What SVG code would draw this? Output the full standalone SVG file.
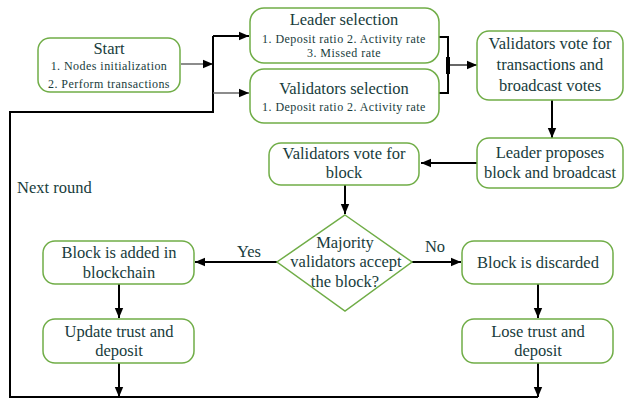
<svg xmlns="http://www.w3.org/2000/svg" width="624" height="400" viewBox="0 0 624 400">
<defs>
<marker id="ah" markerUnits="userSpaceOnUse" markerWidth="10" markerHeight="10" viewBox="0 0 10 10" refX="10" refY="5" orient="auto">
<path d="M0,0.8 L10,5 L0,9.2 Z" fill="#000"/>
</marker>
<style>
.box{fill:#fff;stroke:#70ad47;stroke-width:1.5}
.t{font-family:"Liberation Serif","Times New Roman",serif;fill:#183c3c;text-anchor:middle}
.L{font-size:16.5px}
.S{font-size:12px;letter-spacing:0.45px}
.c{fill:none;stroke:#000;stroke-width:2}
.g{fill:none;stroke:#666;stroke-width:1.5}
</style>
</defs>
<g id="connectors">
<path class="g" d="M181,64 H204" />
<path d="M204,64 L213,64" stroke="#000" stroke-width="1" marker-end="url(#ah)"/>
<path class="c" d="M213,36 V112 H10 V397 H538"/>
<path class="c" d="M213,36 H249" marker-end="url(#ah)"/>
<path class="g" d="M213,93 H240"/>
<path d="M240,93 H249" stroke="#000" stroke-width="1" marker-end="url(#ah)"/>
<path class="c" d="M439,37 H448 V93 H439"/>
<path d="M448,57 V74" stroke="#000" stroke-width="4"/>
<path d="M448,65 H477" stroke="#000" stroke-width="1.2" marker-end="url(#ah)"/>
<path class="c" d="M552,100 V138" marker-end="url(#ah)"/>
<path class="c" d="M477,163 H421" marker-end="url(#ah)"/>
<path class="c" d="M345,185 V214" marker-end="url(#ah)"/>
<path class="c" d="M277,262 H195" marker-end="url(#ah)"/>
<path class="c" d="M412,262 H461" marker-end="url(#ah)"/>
<path class="c" d="M119,284 V318" marker-end="url(#ah)"/>
<path class="c" d="M538,284 V318" marker-end="url(#ah)"/>
<path class="c" d="M119,363 V397" marker-end="url(#ah)"/>
<path class="c" d="M538,363 V397" marker-end="url(#ah)"/>
<text class="t L" x="249" y="257">Yes</text>
<text class="t L" x="435" y="252">No</text>
<text class="t L" x="17" y="193" style="text-anchor:start">Next round</text>
</g>
<g id="start">
<rect class="box" x="38" y="38" width="142" height="54" rx="12"/>
<text class="t L" x="109" y="54">Start</text>
<text class="t S" x="109" y="70">1. Nodes initialization</text>
<text class="t S" x="109" y="88">2. Perform transactions</text>
</g>
<g id="leader-selection">
<rect class="box" x="250" y="8" width="189" height="55" rx="14"/>
<text class="t L" x="344" y="25">Leader selection</text>
<text class="t S" x="344" y="43">1. Deposit ratio 2. Activity rate</text>
<text class="t S" x="344" y="57">3. Missed rate</text>
</g>
<g id="validators-selection">
<rect class="box" x="250" y="69" width="189" height="54" rx="14"/>
<text class="t L" x="344" y="94">Validators selection</text>
<text class="t S" x="344" y="111">1. Deposit ratio 2. Activity rate</text>
</g>
<g id="validators-vote-tx">
<rect class="box" x="477" y="31" width="146" height="69" rx="12"/>
<text class="t L" x="550" y="49">Validators vote for</text>
<text class="t L" x="550" y="70">transactions and</text>
<text class="t L" x="550" y="91">broadcast votes</text>
</g>
<g id="leader-proposes">
<rect class="box" x="477" y="138" width="146" height="50" rx="12"/>
<text class="t L" x="550" y="158">Leader proposes</text>
<text class="t L" x="550" y="178">block and broadcast</text>
</g>
<g id="validators-vote-block">
<rect class="box" x="269" y="143" width="150" height="42" rx="12"/>
<text class="t L" x="344" y="159">Validators vote for</text>
<text class="t L" x="344" y="178">block</text>
</g>
<g id="decision">
<path class="box" d="M345,215 L412,262 L345,311 L277,262 Z"/>
<text class="t L" x="345" y="248">Majority</text>
<text class="t L" x="346" y="267">validators accept</text>
<text class="t L" x="345" y="287">the block?</text>
</g>
<g id="block-added">
<rect class="box" x="43" y="241" width="151" height="43" rx="12"/>
<text class="t L" x="119" y="258">Block is added in</text>
<text class="t L" x="119" y="278">blockchain</text>
</g>
<g id="block-discarded">
<rect class="box" x="462" y="241" width="151" height="43" rx="12"/>
<text class="t L" x="538" y="268">Block is discarded</text>
</g>
<g id="update-trust">
<rect class="box" x="43" y="319" width="151" height="44" rx="12"/>
<text class="t L" x="119" y="337">Update trust and</text>
<text class="t L" x="119" y="356">deposit</text>
</g>
<g id="lose-trust">
<rect class="box" x="462" y="319" width="151" height="44" rx="12"/>
<text class="t L" x="538" y="337">Lose trust and</text>
<text class="t L" x="538" y="356">deposit</text>
</g>
</svg>
